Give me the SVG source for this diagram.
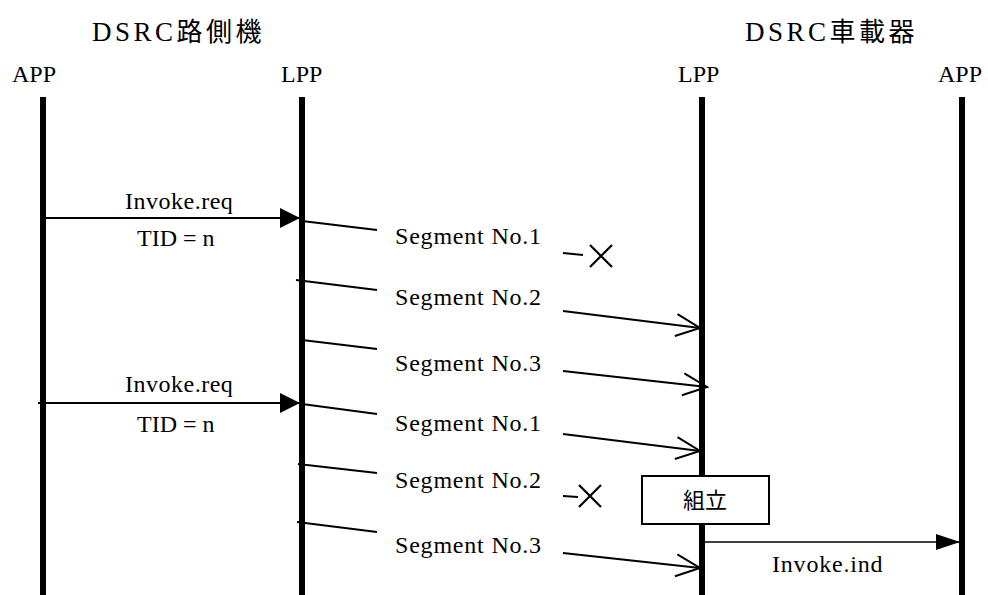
<svg xmlns="http://www.w3.org/2000/svg" width="988" height="595" viewBox="0 0 988 595">
<style>
text{font-family:"Liberation Serif","Times New Roman","DejaVu Serif","Noto Sans CJK JP",serif;fill:#000;font-size:24px}
.title{font-size:27px;letter-spacing:3.5px}
.cjk{font-family:"Noto Sans CJK JP",sans-serif;font-size:26px}
.seg{letter-spacing:0.8px}
.req{letter-spacing:0.5px}
.jp{font-family:"Noto Sans CJK JP",sans-serif;font-size:22px}
.life{stroke:#000;stroke-width:6;fill:none}
.msg{stroke:#000;stroke-width:2;fill:none}
.thin{stroke:#000;stroke-width:1.6;fill:none}
.cross{stroke:#000;stroke-width:2.2;fill:none}
</style>
<defs>
<marker id="headReq" markerUnits="userSpaceOnUse" viewBox="0 0 20 20" refX="20" refY="10" markerWidth="20" markerHeight="20" orient="auto"><path d="M0,0 L20,10 L0,20 Z" fill="#000"/></marker>
<marker id="headInd" markerUnits="userSpaceOnUse" viewBox="0 0 24 16" refX="24" refY="8" markerWidth="24" markerHeight="16" orient="auto"><path d="M0,0 L24,8 L0,16 Z" fill="#000"/></marker>
<marker id="open" markerUnits="userSpaceOnUse" viewBox="-2 -2 28 26" refX="24" refY="11" markerWidth="28" markerHeight="26" orient="auto" overflow="visible"><path d="M0,0 L24,11 L0,22" fill="none" stroke="#000" stroke-width="2"/></marker>
</defs>

<g id="titles">
<text class="title" x="92" y="41">DSRC<tspan class="cjk">路側機</tspan></text>
<text class="title" x="745" y="41">DSRC<tspan class="cjk">車載器</tspan></text>
</g>

<g id="app-rsu">
<text x="12" y="82">APP</text>
<line class="life" x1="43" y1="97" x2="43" y2="595"/>
</g>
<g id="lpp-rsu">
<text x="281" y="82">LPP</text>
<line class="life" x1="302" y1="97" x2="302" y2="595"/>
</g>
<g id="lpp-obu">
<text x="678" y="82">LPP</text>
<line class="life" x1="702" y1="97" x2="702" y2="595"/>
</g>
<g id="app-obu">
<text x="938" y="82">APP</text>
<line class="life" x1="962" y1="97" x2="962" y2="595"/>
</g>

<g id="assemble">
<rect x="642" y="476" width="127" height="48" fill="#fff" stroke="#000" stroke-width="2"/>
<text class="jp" x="705" y="508" text-anchor="middle">組立</text>
</g>

<g id="connectors">
<line class="msg" x1="43" y1="218" x2="300" y2="218" marker-end="url(#headReq)"/>
<line class="msg" x1="38" y1="403" x2="300" y2="403" marker-end="url(#headReq)"/>
<line class="thin" x1="704" y1="542" x2="960" y2="542" marker-end="url(#headInd)"/>

<line class="msg" x1="302" y1="221" x2="377" y2="230"/>
<line class="msg" x1="296" y1="280" x2="377" y2="290"/>
<line class="msg" x1="302" y1="340" x2="377" y2="349"/>
<line class="msg" x1="302" y1="404" x2="377" y2="414"/>
<line class="msg" x1="298" y1="464" x2="377" y2="473"/>
<line class="msg" x1="297" y1="522" x2="377" y2="532"/>

<line class="msg" x1="563" y1="253" x2="583" y2="255"/>
<path class="cross" d="M590,245 L612,267 M612,245 L590,267"/>
<line class="msg" x1="563" y1="311" x2="700" y2="328" marker-end="url(#open)"/>
<line class="msg" x1="563" y1="371" x2="707" y2="387" marker-end="url(#open)"/>
<line class="msg" x1="563" y1="434" x2="700" y2="451" marker-end="url(#open)"/>
<line class="msg" x1="563" y1="496" x2="578" y2="497"/>
<path class="cross" d="M579,485 L601,507 M601,485 L579,507"/>
<line class="msg" x1="563" y1="553" x2="700" y2="568" marker-end="url(#open)"/>
</g>

<g id="labels">
<text class="req" x="125" y="209">Invoke.req</text>
<text x="137" y="246">TID = n</text>
<text class="req" x="125" y="392">Invoke.req</text>
<text x="137" y="432">TID = n</text>
<text class="seg" x="395" y="244">Segment No.1</text>
<text class="seg" x="395" y="305">Segment No.2</text>
<text class="seg" x="395" y="371">Segment No.3</text>
<text class="seg" x="395" y="431">Segment No.1</text>
<text class="seg" x="395" y="488">Segment No.2</text>
<text class="seg" x="395" y="553">Segment No.3</text>
<text class="seg" x="772" y="572">Invoke.ind</text>
</g>
</svg>
